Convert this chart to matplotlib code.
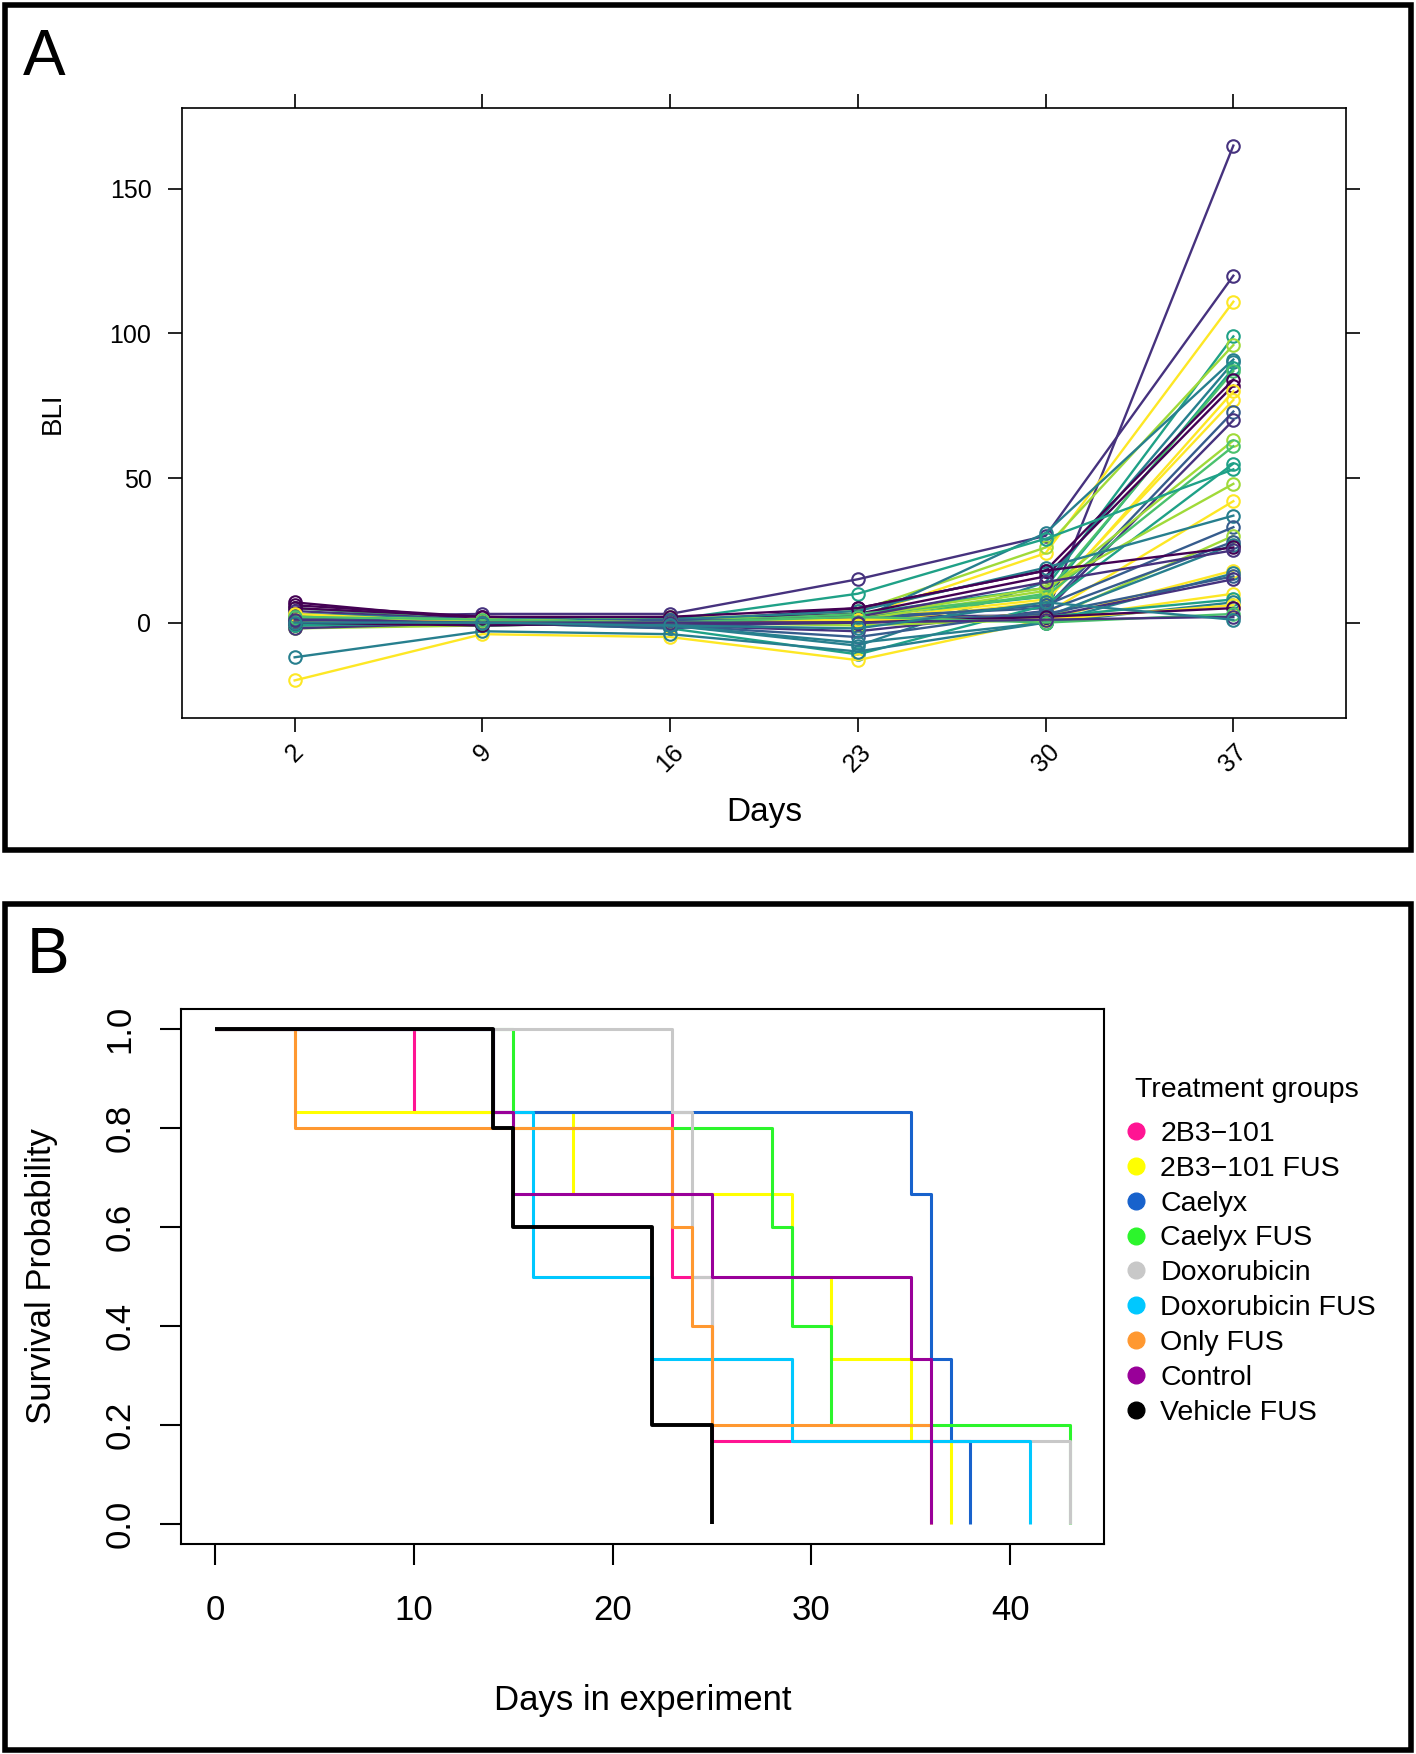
import numpy as np
import matplotlib
matplotlib.use('Agg')
import matplotlib.pyplot as plt
from matplotlib.patches import Rectangle
from matplotlib.lines import Line2D

plt.rcParams['font.family'] = ['Liberation Sans', 'DejaVu Sans']

# ---------------- datos panel A (BLI por sujeto) ----------------
days_a = ['2', '9', '16', '23', '30', '37']
bli_d2 = [1, 2, 0, 1, 2, 3, -1, 0, 5, 7, 6, 1, -1, 2, 4, 3, 0, 2, 1, -2,
          1, 3, -1, 2, 0, 1, 5, -2, -20, -12, 1, 2, 0, -1, 1, 3, 0, 2, 1, 0]
bli_d9 = [0, 3, 0, 1, 0, 1, 0, 1, 1, 1, 2, 0, 0, 1, 1, 0, -1, 0, 1, -1,
          0, 1, 0, 1, 0, -1, 2, 0, -4, -3, 0, 0, 1, 0, 0, 0, -1, 1, 0, 0]
bli_d16 = [1, 3, 1, 0, 1, 0, -1, 1, 0, 0, 1, 0, 1, 0, -1, 2, 0, -2, 1, 0,
           0, 1, -2, 0, -1, 0, 2, 0, -5, -4, 1, -1, 0, 0, -1, 0, 0, 0, 0, -1]
bli_d23 = [2, 15, 2, 3, 4, 1, -8, 2, 0, 5, 3, 0, 1, 2, -3, 1, 3, -11, 10, 2,
           0, 4, 1, -1, -5, 1, 5, 2, -13, -10, 0, 0, 1, 0, -7, 1, 0, 2, 0, -2]
bli_d30 = [2.5, 30, 24, 12, 26, 31, 14, 9, 10, 18, 16, 7, 8, 5, 4, 11, 9, 6, 29, 12,
           3, 19, 6, 1, 4, 2, 18, 14, 1, 0, 3, 2, 1, 2, 0, 1, 2, 0, 1, 7]
bli_d37 = [165, 120, 111, 99, 96, 91, 90, 88, 87, 84, 82, 80, 77, 73, 70, 63, 61, 55, 53, 48,
           42, 37, 33, 30, 28, 27, 26, 25, 18, 17, 16, 15, 10, 8, 7, 6, 5, 3, 2, 1]
subject_group = [1, 1, 7, 4, 6, 3, 3, 4, 5, 0, 0, 7, 7, 2, 1, 6, 5, 4, 4, 6,
                 7, 3, 2, 6, 2, 3, 0, 1, 7, 3, 2, 1, 7, 4, 3, 7, 0, 5, 1, 3]

# ---------------- datos panel B (Kaplan-Meier) ----------------
groups = ['2B3\u2212101', '2B3\u2212101 FUS', 'Caelyx', 'Caelyx FUS', 'Doxorubicin',
          'Doxorubicin FUS', 'Only FUS', 'Control', 'Vehicle FUS']
km_t = [
    [0, 10, 23, 25, 41],
    [0, 4, 18, 29, 31, 35, 37],
    [0, 14, 35, 36, 37, 38],
    [0, 15, 28, 29, 31, 43],
    [0, 23, 24, 25, 29, 43],
    [0, 14, 16, 22, 29, 41],
    [0, 4, 23, 24, 25, 36],
    [0, 14, 15, 25, 35, 36],
    [0, 14, 15, 22, 25],
]
km_s = [
    [1, 0.833, 0.5, 0.167, 0.167],
    [1, 0.833, 0.667, 0.5, 0.333, 0.167, 0],
    [1, 0.833, 0.667, 0.333, 0.167, 0],
    [1, 0.8, 0.6, 0.4, 0.2, 0],
    [1, 0.833, 0.5, 0.333, 0.167, 0],
    [1, 0.833, 0.5, 0.333, 0.167, 0],
    [1, 0.8, 0.6, 0.4, 0.2, 0],
    [1, 0.833, 0.667, 0.5, 0.333, 0],
    [1, 0.8, 0.6, 0.2, 0],
]
km_colors = ['#FF1493', '#FFFF00', '#1862CC', '#2CF52C', '#C8C8C8',
             '#00C8FF', '#FF9830', '#990099', '#000000']

W, H = 1416, 1754
fig = plt.figure(figsize=(W / 100, H / 100), dpi=100)

# marcos de los paneles
fig.add_artist(Rectangle((5 / W, 1 - 850 / H), 1406 / W, 845 / H, transform=fig.transFigure,
                         fill=False, lw=4, ec='black'))
fig.add_artist(Rectangle((5 / W, 1 - 1750 / H), 1406 / W, 846 / H, transform=fig.transFigure,
                         fill=False, lw=4, ec='black'))
fig.text(23 / W, 1 - 75 / H, 'A', fontsize=46, va='baseline')
fig.text(27 / W, 1 - 973 / H, 'B', fontsize=46, va='baseline')

# ---------------- panel A ----------------
ax_a = fig.add_axes([182 / W, 1 - 718 / H, (1346 - 182) / W, 610 / H])
vir = plt.cm.viridis(np.linspace(0, 1, 8))
pos = np.arange(1, len(days_a) + 1)
for i in range(len(bli_d37)):
    vals = [bli_d2[i], bli_d9[i], bli_d16[i], bli_d23[i], bli_d30[i], bli_d37[i]]
    ax_a.plot(pos, vals, color=vir[subject_group[i]], lw=1.7, marker='o', mfc='none',
              ms=9, mew=1.5)
ax_a.set_xlim(0.4, 6.6)
ax_a.set_ylim(-33, 178)
ax_a.set_xticks(pos)
ax_a.set_xticklabels(days_a, rotation=45, ha='center', va='top')
ax_a.set_yticks([0, 50, 100, 150])
ax_a.tick_params(direction='out', length=10, width=1.2, labelsize=18,
                 top=True, right=True, labeltop=False, labelright=False)
ax_a.tick_params(axis='x', pad=6)
ax_a.tick_params(axis='y', pad=12)
for s in ax_a.spines.values():
    s.set_linewidth(1.2)
ax_a.set_xlabel('Days', fontsize=24)
ax_a.xaxis.set_label_coords(0.5, -0.13)
ax_a.set_ylabel('BLI', fontsize=20)
ax_a.yaxis.set_label_coords(-0.1, 0.5)

# ---------------- panel B ----------------
ax_b = fig.add_axes([181 / W, 1 - 1544 / H, 923 / W, 535 / H])
for t, s, c in zip(km_t, km_s, km_colors):
    lw = 2.8 if c == '#000000' else 2.2
    ax_b.step(t, s, where='post', color=c, lw=lw, solid_capstyle='butt')
ax_b.set_xlim(-1.72, 44.72)
ax_b.set_ylim(-0.04, 1.04)
ax_b.set_xticks([0, 10, 20, 30, 40])
ax_b.set_yticks([0, 0.2, 0.4, 0.6, 0.8, 1.0])
ax_b.set_yticklabels(['0.0', '0.2', '0.4', '0.6', '0.8', '1.0'])
ax_b.tick_params(direction='out', length=15, width=1.5, labelsize=25)
ax_b.tick_params(axis='x', pad=21)
ax_b.tick_params(axis='y', pad=17)
plt.setp(ax_b.get_yticklabels(), rotation=90, va='center')
for s in ax_b.spines.values():
    s.set_linewidth(1.5)
ax_b.set_xlabel('Days in experiment', fontsize=25)
ax_b.xaxis.set_label_coords(0.5, -0.262)
ax_b.set_ylabel('Survival Probability', fontsize=25)
ax_b.yaxis.set_label_coords(-0.133, 0.5)

# leyenda: titulo aparte para separar como en R
fig.text(1135 / W, 1 - 1097 / H, 'Treatment groups', fontsize=20.5, va='baseline')
handles = [Line2D([], [], ls='none', marker='o', ms=12, mfc=c, mec=c) for c in km_colors]
ax_b.legend(handles, groups, loc='upper left',
            bbox_to_anchor=(1126 / W, 1 - 1121 / H), bbox_transform=fig.transFigure,
            frameon=False, fontsize=20.5, handlelength=0.7, handletextpad=0.5,
            labelspacing=0.31, borderpad=0, borderaxespad=0)

fig.savefig('out.png', dpi=100)
